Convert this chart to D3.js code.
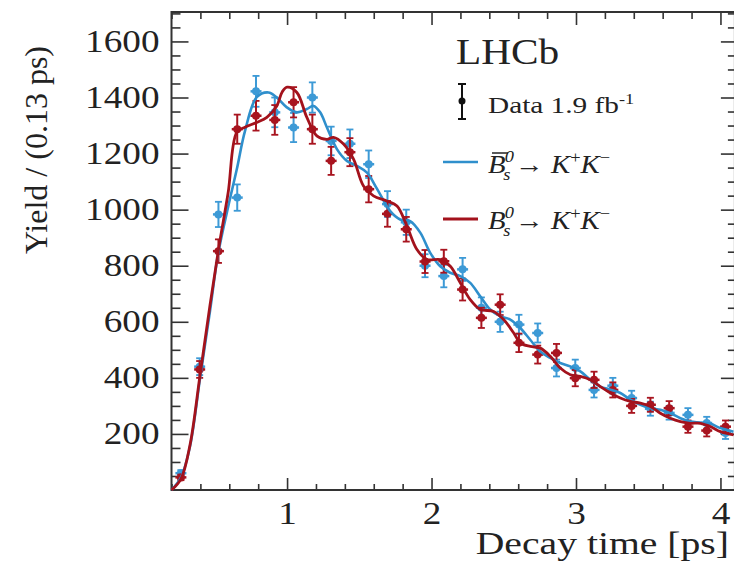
<!DOCTYPE html>
<html>
<head>
<meta charset="utf-8">
<script src="https://cdn.jsdelivr.net/npm/d3@7"></script>
<style>
body { margin: 0; background: #fff; }
text { font-family: "Liberation Serif", "Times New Roman", serif; fill: #222; }
</style>
</head>
<body>
<script>
(function(){
'use strict';

// bin centres, 0.13 ps wide
var binCentres = [0.265, 0.395, 0.525, 0.655, 0.785, 0.915, 1.045, 1.175, 1.305, 1.435,
				1.565, 1.695, 1.825, 1.955, 2.085, 2.215, 2.345, 2.475, 2.605, 2.735,
				2.865, 2.995, 3.125, 3.255, 3.385, 3.515, 3.645, 3.775, 3.905, 4.035];

var blueYield = [60, 440, 983, 1043, 1422, 1347, 1293, 1400, 1245, 1235,
				1162, 1020, 955, 800, 763, 787, 650, 600, 590, 560,
				435, 435, 357, 372, 328, 290, 275, 268, 239, 203];
var blueErr = [11, 30, 45, 47, 55, 53, 52, 54, 51, 51,
				49, 46, 45, 41, 40, 41, 37, 36, 35, 34,
				30, 30, 27, 28, 26, 25, 24, 24, 22, 21];

var redYield = [45, 430, 852, 1287, 1335, 1320, 1383, 1287, 1174, 1205,
				1073, 985, 930, 815, 816, 715, 614, 661, 525, 483,
				489, 399, 393, 357, 300, 304, 292, 226, 212, 226];
var redErr = [10, 30, 42, 52, 53, 53, 54, 52, 50, 50,
				47, 46, 44, 41, 41, 39, 36, 37, 33, 32,
				32, 29, 29, 27, 25, 25, 25, 22, 21, 22];

// fit curves
var blueFitT = [0.20, 0.266, 0.328, 0.398, 0.467, 0.522, 0.592, 0.652, 0.709, 0.790,
				0.871, 0.929, 0.998, 1.068, 1.137, 1.183, 1.229, 1.276, 1.345, 1.414,
				1.483, 1.553, 1.622, 1.714, 1.783, 1.852, 1.922, 1.991, 2.060, 2.129,
				2.199, 2.268, 2.337, 2.406, 2.475, 2.545, 2.614, 2.683, 2.753, 2.822,
				2.891, 2.961, 3.030, 3.099, 3.168, 3.238, 3.307, 3.376, 3.446, 3.515,
				3.584, 3.653, 3.723, 3.792, 3.861, 3.931, 4.000, 4.090];
var blueFitY = [0, 45, 155, 400, 640, 840, 1010, 1144, 1281, 1401,
				1418, 1400, 1365, 1347, 1359, 1370, 1347, 1293, 1216, 1174,
				1156, 1132, 1075, 995, 965, 959, 918, 846, 798, 775,
				763, 739, 691, 644, 620, 608, 578, 536, 494, 471,
				453, 441, 423, 393, 369, 358, 346, 322, 304, 292,
				286, 274, 256, 244, 241, 236, 221, 208];

var redFitT = [0.20, 0.266, 0.328, 0.398, 0.467, 0.529, 0.592, 0.652, 0.709, 0.790,
				0.860, 0.929, 0.966, 1.000, 1.068, 1.137, 1.206, 1.276, 1.321, 1.391,
				1.460, 1.529, 1.598, 1.691, 1.761, 1.830, 1.899, 1.969, 2.061, 2.130,
				2.199, 2.268, 2.337, 2.430, 2.499, 2.569, 2.615, 2.684, 2.753, 2.822,
				2.891, 2.961, 3.030, 3.099, 3.168, 3.238, 3.307, 3.376, 3.446, 3.515,
				3.584, 3.653, 3.723, 3.792, 3.861, 3.931, 4.000, 4.090];
var redFitY = [0, 40, 160, 411, 661, 870, 1060, 1276, 1294, 1311,
				1329, 1370, 1420, 1437, 1418, 1329, 1263, 1251, 1258, 1234,
				1180, 1084, 1049, 1031, 1013, 941, 858, 822, 822, 798,
				739, 679, 644, 637, 608, 560, 524, 512, 506, 477,
				435, 411, 405, 393, 369, 346, 328, 316, 310, 298,
				274, 256, 244, 238, 238, 226, 208, 197];

var xMajor = [1, 2, 3, 4];
var yMajor = [200, 400, 600, 800, 1000, 1200, 1400, 1600];

var blueCol = '#2f8fcc';
var bluePt = '#3d9ad6';
var redCol = '#a3121c';
var redPt = '#a8141f';
var axisCol = '#333';
var stretchK = 1.2;

var width = 734;
var height = 565;
var left = 171.5, top = 12, right = 734.9, bottom = 490;

var svg = d3.select('body').append('svg')
			.attr('width', width)
			.attr('height', height);

var x = d3.scaleLinear().domain([0.2, 4.1]).range([left, right]);
var y = d3.scaleLinear().domain([0, 1705]).range([bottom, top]);

// widen text a bit like the source picture
function stretch(sel, k){
	sel.each(function(){
		var t = d3.select(this);
		var tx = +t.attr('x') || 0;
		var ty = +t.attr('y') || 0;
		t.attr('transform', 'translate(' + tx + ',' + ty + ') scale(' + k + ',1) translate(' + (-tx) + ',' + (-ty) + ')');
	});
}

function styleAxis(g){
	g.select('.domain').remove();
	g.selectAll('line').attr('stroke', axisCol).attr('stroke-width', 1.6);
	g.selectAll('text').style('font-size', '31px').attr('fill', '#222');
}

var xMinor = x.ticks(20).filter(function(d){ return Math.abs(d - Math.round(d)) > 1e-6; });
var yMinor = y.ticks(35).filter(function(d){ return d % 200 !== 0; });

// bottom
svg.append('g').attr('transform', 'translate(0,' + bottom + ')')
	.call(d3.axisBottom(x).tickValues(xMinor).tickSize(-6).tickFormat(''))
	.call(styleAxis);
var xb = svg.append('g').attr('transform', 'translate(0,' + bottom + ')')
	.call(d3.axisBottom(x).tickValues(xMajor).tickSize(-12).tickPadding(12).tickFormat(d3.format('d')))
	.call(styleAxis);
stretch(xb.selectAll('text'), stretchK);

// top
svg.append('g').attr('transform', 'translate(0,' + top + ')')
	.call(d3.axisTop(x).tickValues(xMinor).tickSize(-7).tickFormat(''))
	.call(styleAxis);
svg.append('g').attr('transform', 'translate(0,' + top + ')')
	.call(d3.axisTop(x).tickValues(xMajor).tickSize(-13).tickFormat(''))
	.call(styleAxis);

// left
svg.append('g').attr('transform', 'translate(' + left + ',0)')
	.call(d3.axisLeft(y).tickValues(yMinor).tickSize(-9).tickFormat(''))
	.call(styleAxis);
var yl = svg.append('g').attr('transform', 'translate(' + left + ',0)')
	.call(d3.axisLeft(y).tickValues(yMajor).tickSize(-17).tickPadding(12).tickFormat(d3.format('d')))
	.call(styleAxis);
stretch(yl.selectAll('text'), stretchK);

// right
svg.append('g').attr('transform', 'translate(' + right + ',0)')
	.call(d3.axisRight(y).tickValues(yMinor).tickSize(-7).tickFormat(''))
	.call(styleAxis);
svg.append('g').attr('transform', 'translate(' + right + ',0)')
	.call(d3.axisRight(y).tickValues(yMajor).tickSize(-14).tickFormat(''))
	.call(styleAxis);

svg.append('rect')
	.attr('x', left).attr('y', top)
	.attr('width', right - left).attr('height', bottom - top)
	.attr('fill', 'none').attr('stroke', axisCol).attr('stroke-width', 2);

// axis titles
svg.append('text')
	.attr('x', 729).attr('y', 554)
	.attr('text-anchor', 'end')
	.style('font-size', '31px')
	.attr('transform', 'translate(729,554) scale(1.28,1) translate(-729,-554)')
	.text('Decay time [ps]');

svg.append('text')
	.attr('transform', 'translate(47,150) rotate(-90)')
	.attr('text-anchor', 'middle')
	.style('font-size', '32px')
	.text('Yield / (0.13 ps)');

// data points
function drawPoints(vals, errs, col){
	var rows = binCentres.map(function(t, i){ return {t: t, v: vals[i], e: errs[i]}; });
	var g = svg.append('g').attr('stroke', col).attr('fill', col);
	var p = g.selectAll('g').data(rows).enter().append('g');
	p.append('line')
		.attr('x1', function(d){ return x(d.t); })
		.attr('x2', function(d){ return x(d.t); })
		.attr('y1', function(d){ return y(d.v - d.e); })
		.attr('y2', function(d){ return y(d.v + d.e); })
		.attr('stroke-width', 2);
	[-1, 1].forEach(function(s){
		p.append('line')
			.attr('x1', function(d){ return x(d.t) - 3.5; })
			.attr('x2', function(d){ return x(d.t) + 3.5; })
			.attr('y1', function(d){ return y(d.v + s * d.e); })
			.attr('y2', function(d){ return y(d.v + s * d.e); })
			.attr('stroke-width', 1.8);
	});
	p.append('line')
		.attr('x1', function(d){ return x(d.t) - 5.5; })
		.attr('x2', function(d){ return x(d.t) + 5.5; })
		.attr('y1', function(d){ return y(d.v); })
		.attr('y2', function(d){ return y(d.v); })
		.attr('stroke-width', 2.5);
	p.append('circle')
		.attr('cx', function(d){ return x(d.t); })
		.attr('cy', function(d){ return y(d.v); })
		.attr('r', 4)
		.attr('stroke', 'none');
}

drawPoints(blueYield, blueErr, bluePt);
drawPoints(redYield, redErr, redPt);

// fit curves
var line = d3.line()
	.x(function(d){ return x(d[0]); })
	.y(function(d){ return y(d[1]); })
	.curve(d3.curveCatmullRom.alpha(0.5));

svg.append('path')
	.datum(blueFitT.map(function(t, i){ return [t, blueFitY[i]]; }))
	.attr('d', line)
	.attr('fill', 'none').attr('stroke', blueCol).attr('stroke-width', 2.6);
svg.append('path')
	.datum(redFitT.map(function(t, i){ return [t, redFitY[i]]; }))
	.attr('d', line)
	.attr('fill', 'none').attr('stroke', redCol).attr('stroke-width', 2.8);

// legend
var lh = svg.append('text')
	.attr('x', 456).attr('y', 64)
	.style('font-size', '35px')
	.text('LHCb');
stretch(lh, 1.18);

var dm = svg.append('g').attr('stroke', '#111').attr('fill', '#111');
dm.append('line').attr('x1', 462).attr('x2', 462).attr('y1', 84).attr('y2', 119).attr('stroke-width', 2);
dm.append('line').attr('x1', 458).attr('x2', 466).attr('y1', 84).attr('y2', 84).attr('stroke-width', 2);
dm.append('line').attr('x1', 458).attr('x2', 466).attr('y1', 119).attr('y2', 119).attr('stroke-width', 2);
dm.append('circle').attr('cx', 462).attr('cy', 101).attr('r', 3.5).attr('stroke', 'none');

var dt = svg.append('text')
	.attr('x', 488).attr('y', 113)
	.style('font-size', '24px');
dt.append('tspan').text('Data 1.9 fb');
dt.append('tspan').attr('dy', -9).style('font-size', '15px').text('-1');
stretch(dt, 1.22);

// one text element per legend label, sub/sup stacked with tspans
function legendLabel(gx, gy, bar){
	var t = svg.append('text')
		.attr('x', gx).attr('y', gy)
		.style('font-size', '25px')
		.attr('transform', 'translate(' + gx + ',' + gy + ') scale(1.15,1) translate(' + (-gx) + ',' + (-gy) + ')');
	t.append('tspan').style('font-style', 'italic').text('B');
	t.append('tspan').style('font-style', 'italic').style('font-size', '16px').attr('dx', -2).attr('dy', 7).text('s');
	t.append('tspan').style('font-style', 'italic').style('font-size', '16px').attr('dx', -5).attr('dy', -18).text('0');
	t.append('tspan').attr('dx', 1).attr('dy', 11).text('\u2192 ');
	t.append('tspan').style('font-style', 'italic').text('K');
	t.append('tspan').style('font-size', '16px').attr('dy', -10).text('+');
	t.append('tspan').style('font-style', 'italic').attr('dy', 10).text('K');
	t.append('tspan').style('font-size', '16px').attr('dy', -10).text('\u2212');
	if(bar){
		svg.append('line').attr('x1', gx + 4).attr('x2', gx + 20).attr('y1', gy - 20).attr('y2', gy - 20)
			.attr('stroke', '#222').attr('stroke-width', 1.5);
	}
}

svg.append('line').attr('x1', 443).attr('x2', 478).attr('y1', 162).attr('y2', 162)
	.attr('stroke', blueCol).attr('stroke-width', 2.6);
legendLabel(488, 173, true);

svg.append('line').attr('x1', 443).attr('x2', 478).attr('y1', 219).attr('y2', 219)
	.attr('stroke', redCol).attr('stroke-width', 2.8);
legendLabel(488, 229, false);

})();
</script>
</body>
</html>
